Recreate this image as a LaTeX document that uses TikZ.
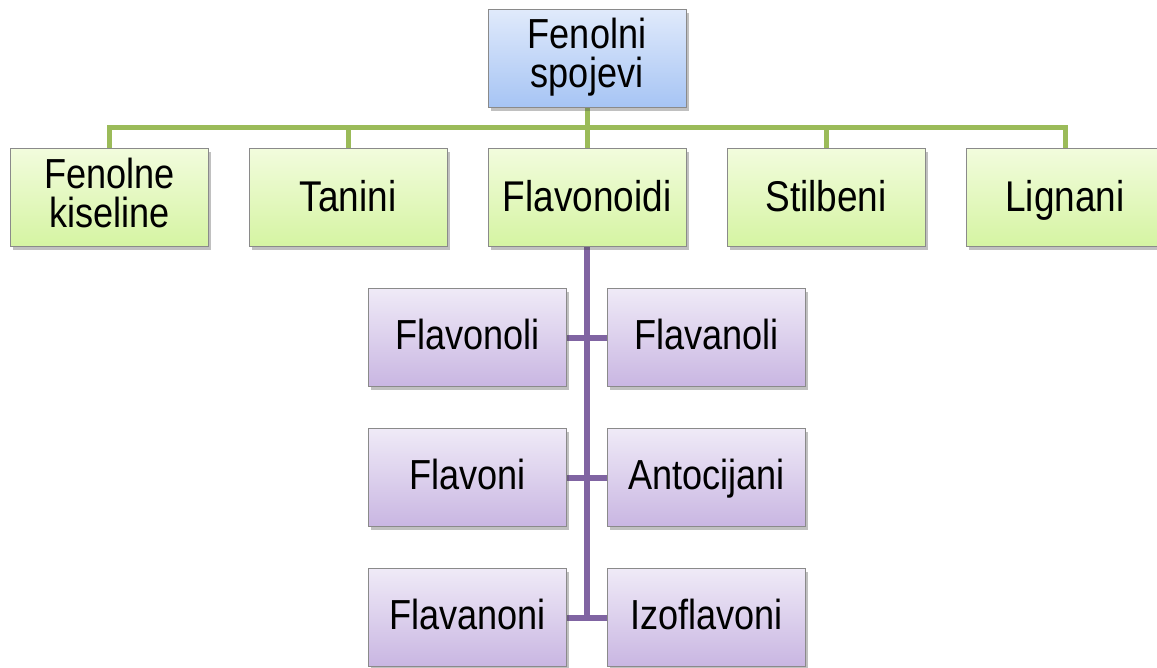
\documentclass[tikz,border=0pt]{standalone}
\usepackage{fontspec}
\setmainfont{Liberation Sans}[FakeStretch=0.86]
\usetikzlibrary{shadows,backgrounds}
\definecolor{bluetop}{HTML}{E0EAFB}
\definecolor{bluebot}{HTML}{A6C4F4}
\definecolor{greentop}{HTML}{F2FCDD}
\definecolor{greenbot}{HTML}{D5F4A2}
\definecolor{purptop}{HTML}{EFEAF7}
\definecolor{purpbot}{HTML}{C9B6E2}
\definecolor{gline}{HTML}{9BBB59}
\definecolor{pline}{HTML}{8064A2}
\definecolor{bordergray}{HTML}{8A8A8A}
\tikzset{
  boxbase/.style={draw=bordergray, line width=1pt, minimum width=198pt, minimum height=98pt,
    inner sep=0pt, align=center, font=\fontsize{42}{39}\selectfont,
    drop shadow={shadow xshift=2.5pt, shadow yshift=-3.5pt, opacity=0.35, fill=black!70}},
  oneline/.style={text height=31pt, text depth=7pt},
  greenline/.style={text height=33pt, text depth=6pt, font=\fontsize{43}{39}\selectfont},
  bluebox/.style={boxbase, text depth=12pt, top color=bluetop, bottom color=bluebot},
  greenbox/.style={boxbase, top color=greentop, bottom color=greenbot},
  purpbox/.style={boxbase, oneline, top color=purptop, bottom color=purpbot},
  gconn/.style={draw=gline, line width=5pt},
  pconn/.style={draw=pline, line width=6pt},
}
\begin{document}
\begin{tikzpicture}[x=1pt, y=-1pt]
\useasboundingbox (0,0) rectangle (1157,667);
\coordinate (bus) at (0,127);
\node[bluebox] (top) at (587,58.5) {Fenolni\\spojevi};
\node[greenbox, text depth=10pt] (b1) at (109.5,197.5) {Fenolne\\kiseline};
\node[greenbox, greenline] (b2) at (348,197.5) {Tanini};
\node[greenbox, greenline] (b3) at (587,197.5) {Flavonoidi};
\node[greenbox, greenline] (b4) at (826,197.5) {Stilbeni};
\node[greenbox, greenline] (b5) at (1065,197.5) {Lignani};
\node[purpbox] (p1) at (467.5,337.5) {Flavonoli};
\node[purpbox] (p2) at (706.5,337.5) {Flavanoli};
\node[purpbox] (p3) at (467.5,477.5) {Flavoni};
\node[purpbox] (p4) at (706.5,477.5) {Antocijani};
\node[purpbox] (p5) at (467.5,617.5) {Flavanoni};
\node[purpbox] (p6) at (706.5,617.5) {Izoflavoni};
\begin{scope}[on background layer]
\fill[white] (0,0) rectangle (1157,667);
\draw[gconn] (top.south) -- (top.south |- bus);
\draw[gconn] (b1.north) |- (bus -| b5.north) -- (b5.north);
\foreach \n in {b2,b3,b4} \draw[gconn] (\n.north) -- (\n.north |- bus);
\coordinate (pend) at (b3.south |- p5.east);
\draw[pconn] (b3.south) -- (pend);
\draw[pconn] (p1.east) -- (p2.west);
\draw[pconn] (p3.east) -- (p4.west);
\draw[pconn] (p5.east) -- (p6.west);
\end{scope}
\end{tikzpicture}
\end{document}
